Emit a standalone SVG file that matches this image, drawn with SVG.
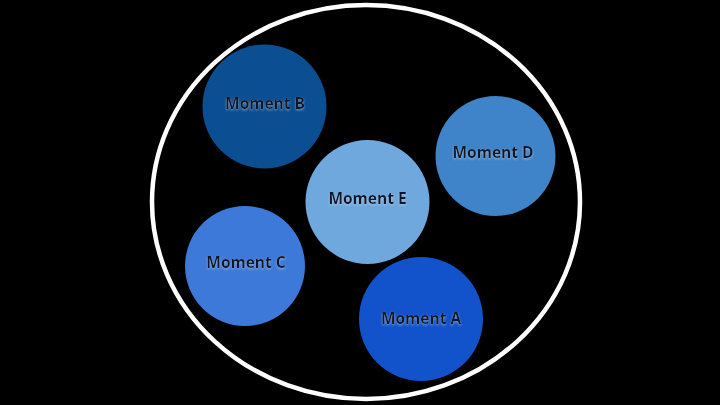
<svg xmlns="http://www.w3.org/2000/svg" width="720" height="405" viewBox="0 0 720 405">
<defs>
<filter id="glow" x="-20%" y="-50%" width="140%" height="200%">
<feDropShadow dx="0" dy="1.2" stdDeviation="1" flood-color="#cfe0f5" flood-opacity="0.5"/>
</filter>
</defs>
<style>
.lbl{font-family:"Open Sans","Noto Sans","Liberation Sans",sans-serif;font-size:15.5px;font-weight:700;fill:#0c1629;text-anchor:middle;filter:url(#glow)}
</style>
<rect x="0" y="0" width="720" height="405" fill="#000"/>
<g id="boundary"><ellipse cx="366" cy="202" rx="214" ry="197" fill="none" stroke="#fff" stroke-width="4.5"/></g>
<g id="momentB"><circle cx="264.5" cy="106.5" r="62" fill="#0b4f92"/><text class="lbl" x="265" y="108.5">Moment B</text></g>
<g id="momentD"><circle cx="495.5" cy="156" r="60" fill="#3f84c8"/><text class="lbl" x="493" y="158">Moment D</text></g>
<g id="momentE"><circle cx="367.5" cy="202" r="62" fill="#6fa8dc"/><text class="lbl" x="367.5" y="204">Moment E</text></g>
<g id="momentC"><circle cx="245" cy="266" r="60" fill="#3d79d9"/><text class="lbl" x="246" y="268">Moment C</text></g>
<g id="momentA"><circle cx="421" cy="319" r="62" fill="#1253cc"/><text class="lbl" x="421" y="324">Moment A</text></g>
<g id="connectors"/>
</svg>
